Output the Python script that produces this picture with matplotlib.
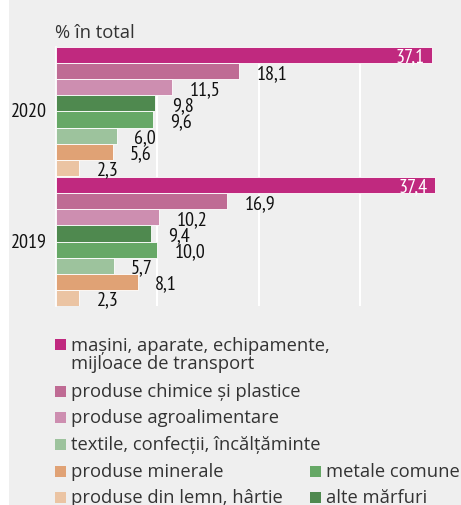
import matplotlib
matplotlib.use("Agg")
import matplotlib.pyplot as plt
from matplotlib import font_manager as fm
from matplotlib.patches import Rectangle
import numpy as np

# data (% in total)
years = ["2020", "2019"]
categories = ["mașini, aparate, echipamente,\nmijloace de transport",
              "produse chimice și plastice",
              "produse agroalimentare",
              "alte mărfuri",
              "metale comune",
              "textile, confecții, încălțăminte",
              "produse minerale",
              "produse din lemn, hârtie"]
values_2020 = [37.1, 18.1, 11.5, 9.8, 9.6, 6.0, 5.6, 2.3]
values_2019 = [37.4, 16.9, 10.2, 9.4, 10.0, 5.7, 8.1, 2.3]
colors = ["#c0297f", "#bf6b94", "#cd8eb0", "#4f894f",
          "#66a866", "#9dc39d", "#e0a275", "#ebc4a3"]

# condensed font for the numbers, pick what is installed
have = set(f.name for f in fm.fontManager.ttflist)
lab_font = "DejaVu Sans"
for cand in ["PT Sans Narrow", "Archivo Narrow", "Asap Condensed", "Barlow Semi Condensed"]:
    if cand in have:
        lab_font = cand
        break

bg = "#efefef"
W, H = 461, 506
fig = plt.figure(figsize=(W / 100, H / 100), dpi=100)
fig.patch.set_facecolor("white")
fig.patches.append(Rectangle((9 / W, 0), 1 - 9 / W, 1, transform=fig.transFigure,
                             facecolor=bg, edgecolor="none", zorder=-10))

top, bot = 48, 307
ax = fig.add_axes([56 / W, 1 - bot / H, 1 - 56 / W, (bot - top) / H])
ax.set_facecolor(bg)
ax.patch.set_alpha(0)

n = len(categories)
gap = 0.07
fs = 14.5
for g, vals in enumerate([values_2020, values_2019]):
    ys = g * (n + gap) + np.arange(n) + 0.5
    ax.barh(ys, vals, height=1.0, color=colors, edgecolor="white", linewidth=0.6, zorder=3)
    for i, (y, v) in enumerate(zip(ys, vals)):
        txt = f"{v:.1f}".replace(".", ",")
        if i == 0:
            ax.text(v - 0.65, y + 0.05, txt, color="white", ha="right", va="center",
                    fontsize=fs, family=lab_font, zorder=4)
        else:
            ax.text(v + 1.7, y + 0.1, txt, color="#111111", ha="left", va="center",
                    fontsize=fs, family=lab_font, zorder=4)
    ax.text(-0.85, g * (n + gap) + n / 2, years[g], ha="right", va="center",
            fontsize=fs, family=lab_font, color="#111111")

ax.set_xlim(0, 40)
ax.set_ylim(2 * n + gap, 0)
ax.set_xticks([10, 20, 30])
ax.grid(axis="x", color="white", linewidth=1.5, zorder=0)
ax.set_axisbelow(True)
ax.tick_params(left=False, bottom=False, labelleft=False, labelbottom=False)
for s in ["top", "right", "bottom"]:
    ax.spines[s].set_visible(False)
ax.spines["left"].set_color("white")
ax.spines["left"].set_linewidth(1.2)

# unit label
fig.text(55 / W, 1 - 33 / H, "% în total", ha="left", va="center",
         fontsize=13.2, family="Open Sans", color="#333333")

# legend, drawn by hand in two columns
leg_rows = [(0, 345), (1, 392), (2, 418), (5, 445), (6, 472), (7, 498)]
leg_rows2 = [(4, 472), (3, 498)]
for col_x, rows in [(55, leg_rows), (310, leg_rows2)]:
    for idx, yc in rows:
        fig.patches.append(Rectangle((col_x / W, 1 - (yc + 5.5) / H), 11 / W, 11 / H,
                                     transform=fig.transFigure, facecolor=colors[idx],
                                     edgecolor="none"))
        ty = yc + 10 if "\n" in categories[idx] else yc
        fig.text((col_x + 16) / W, 1 - ty / H, categories[idx], ha="left", va="center",
                 fontsize=13.2, family="Open Sans", color="#333333", linespacing=1.0)

fig.savefig("out.png", dpi=100, facecolor=fig.get_facecolor())
